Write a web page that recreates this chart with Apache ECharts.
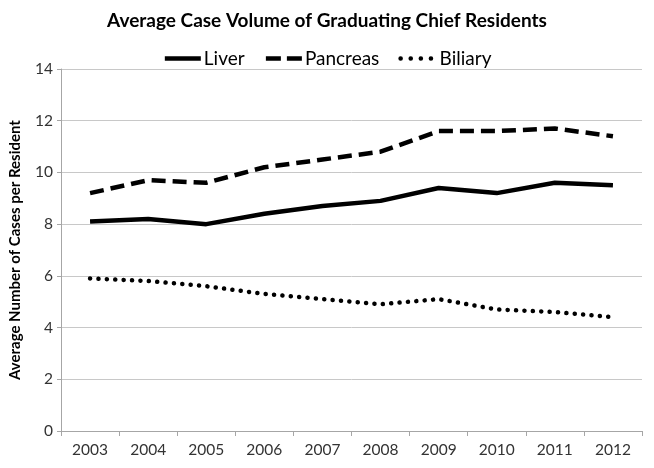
<!DOCTYPE html>
<html><head><meta charset="utf-8">
<script src="https://cdn.jsdelivr.net/npm/echarts@6/dist/echarts.min.js"></script>
<style>html,body{margin:0;padding:0;background:#fff}#c{width:654px;height:468px}</style>
</head><body><div id="c"></div>
<script>
const years = ['2003','2004','2005','2006','2007','2008','2009','2010','2011','2012'];
const liver = [8.1, 8.2, 8.0, 8.4, 8.7, 8.9, 9.4, 9.2, 9.6, 9.5];
const pancreas = [9.2, 9.7, 9.6, 10.2, 10.5, 10.8, 11.6, 11.6, 11.7, 11.4];
const biliary = [5.9, 5.8, 5.6, 5.3, 5.1, 4.9, 5.1, 4.7, 4.6, 4.4];
const titleText = 'Average Case Volume of Graduating Chief Residents';
const yName = 'Average Number of Cases per Resident';
const FONT = 'Lato';
const DASH = [14, 7];
const DOT = [0.1, 8.3];
const chart = echarts.init(document.getElementById('c'), null, {renderer:'canvas'});
chart.setOption({
  animation: false,
  backgroundColor: '#fff',
  title: {text: titleText, left: 'center', top: 6,
    textStyle: {fontFamily: FONT, fontWeight: 'bold', fontSize: 19, color: '#000'}},
  legend: {top: 44, left: 'center', itemWidth: 36, itemHeight: 10, itemGap: 19,
    textStyle: {fontFamily: FONT, fontSize: 19, color: '#000', padding: [0,0,0,-2]},
    data: [
      {name: 'Liver', itemStyle: {opacity: 0}, lineStyle: {color: '#000', width: 4.5, type: 'solid'}},
      {name: 'Pancreas', itemStyle: {opacity: 0}, lineStyle: {color: '#000', width: 4.5, type: [15, 6]}},
      {name: 'Biliary', itemStyle: {opacity: 0}, lineStyle: {color: '#000', width: 4.5, type: [0.1, 10], cap: 'round'}}
    ]},
  grid: {left: 58, right: 12, top: 69, bottom: 37},
  xAxis: {type: 'category', data: years, boundaryGap: true,
    axisLine: {lineStyle: {color: '#a6a6a6', width: 1}},
    axisTick: {show: true, length: 5, lineStyle: {color: '#a6a6a6'}},
    axisLabel: {fontFamily: FONT, fontSize: 15.5, color: '#333', margin: 11}},
  yAxis: {type: 'value', min: 0, max: 14, interval: 2,
    name: yName, nameLocation: 'middle', nameGap: 38, nameRotate: 90,
    nameTextStyle: {fontFamily: FONT, fontWeight: 'bold', fontSize: 15, color: '#000'},
    axisLine: {show: true, lineStyle: {color: '#a6a6a6'}},
    axisTick: {show: true, length: 4, lineStyle: {color: '#a6a6a6'}},
    splitLine: {lineStyle: {color: '#c8c8c8', width: 1}},
    axisLabel: {fontFamily: FONT, fontSize: 15.5, color: '#333', margin: 8}},
  series: [
    {name: 'Liver', type: 'line', data: liver, symbol: 'none',
      lineStyle: {color: '#000', width: 4.5, type: 'solid'}, itemStyle: {color: '#000'}},
    {name: 'Pancreas', type: 'line', data: pancreas, symbol: 'none',
      lineStyle: {color: '#000', width: 4.5, type: DASH}, itemStyle: {color: '#000'}},
    {name: 'Biliary', type: 'line', data: biliary, symbol: 'none',
      lineStyle: {color: '#000', width: 4.5, type: DOT, cap: 'round'}, itemStyle: {color: '#000'}}
  ]
});
</script></body></html>
